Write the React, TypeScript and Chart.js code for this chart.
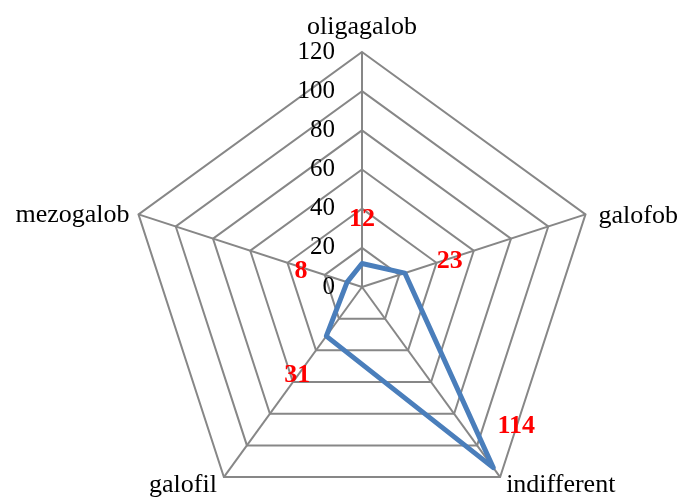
import React, { useEffect, useRef } from 'react';
import { Chart, registerables } from 'chart.js';

Chart.register(...registerables);

const categories = ['oligagalob', 'galofob', 'indifferent', 'galofil', 'mezogalob'];
const values = [12, 23, 114, 31, 8];
const tickValues = [0, 20, 40, 60, 80, 100, 120];

// label styling: [textAlign, dx, dy] relative to the outer vertex (alphabetic baseline)
const pointLabelStyle: [CanvasTextAlign, number, number][] = [
  ['center', 0, -18],
  ['left', 13, 9],
  ['left', 6, 15],
  ['right', -7, 15],
  ['right', -9, 8],
];
// data label offsets from each data point (centre of text)
const dataLabelOffset: [number, number][] = [
  [0, -45],
  [45, -13],
  [23, -42],
  [-29, 38],
  [-46, -12],
];

const FONT = '"Liberation Serif", "Times New Roman", serif';

const labelPlugin = {
  id: 'customLabels',
  afterDraw(chart: any) {
    const scale = chart.scales.r;
    const ctx: CanvasRenderingContext2D = chart.ctx;
    ctx.save();
    // tick labels
    ctx.fillStyle = '#000';
    ctx.font = `25px ${FONT}`;
    ctx.textAlign = 'right';
    ctx.textBaseline = 'middle';
    tickValues.forEach((v) => {
      const d = scale.getDistanceFromCenterForValue(v);
      ctx.fillText(String(v), scale.xCenter - 27, scale.yCenter - d);
    });
    // point labels
    ctx.font = `26px ${FONT}`;
    ctx.textBaseline = 'alphabetic';
    categories.forEach((c, i) => {
      const p = scale.getPointPosition(i, scale.drawingArea);
      const [align, dx, dy] = pointLabelStyle[i];
      ctx.textAlign = align;
      ctx.fillText(c, p.x + dx, p.y + dy);
    });
    // data labels
    ctx.fillStyle = '#ff0000';
    ctx.font = `bold 26px ${FONT}`;
    ctx.textAlign = 'center';
    ctx.textBaseline = 'middle';
    values.forEach((v, i) => {
      const p = scale.getPointPosition(i, scale.getDistanceFromCenterForValue(v));
      const [dx, dy] = dataLabelOffset[i];
      ctx.fillText(String(v), p.x + dx, p.y + dy + 1);
    });
    ctx.restore();
  },
};

export default function App() {
  const ref = useRef<HTMLCanvasElement>(null);
  useEffect(() => {
    if (!ref.current) return;
    const chart = new Chart(ref.current, {
      type: 'radar',
      data: {
        labels: categories,
        datasets: [
          {
            label: 'Series 1',
            data: values,
            borderColor: '#4a7ebb',
            backgroundColor: 'transparent',
            borderWidth: 5,
            borderJoinStyle: 'round',
            pointRadius: 0,
            pointHoverRadius: 0,
            fill: false,
          },
        ],
      },
      options: {
        responsive: false,
        animation: false,
        layout: { padding: { left: 127, right: 81, top: 52, bottom: 52 } },
        plugins: { legend: { display: false }, tooltip: { enabled: false } },
        scales: {
          r: {
            min: 0,
            max: 120,
            ticks: { display: false, stepSize: 20 },
            grid: { color: '#878787', lineWidth: 2 },
            angleLines: { color: '#878787', lineWidth: 2 },
            pointLabels: { display: false },
          },
        },
      },
      plugins: [labelPlugin],
    });
    return () => chart.destroy();
  }, []);
  return (
    <div
      style={{
        position: 'fixed',
        left: 0,
        top: 0,
        width: 678,
        height: 498,
        overflow: 'hidden',
        background: '#fff',
      }}
    >
      <canvas ref={ref} width={678} height={574} style={{ display: 'block' }} />
    </div>
  );
}
